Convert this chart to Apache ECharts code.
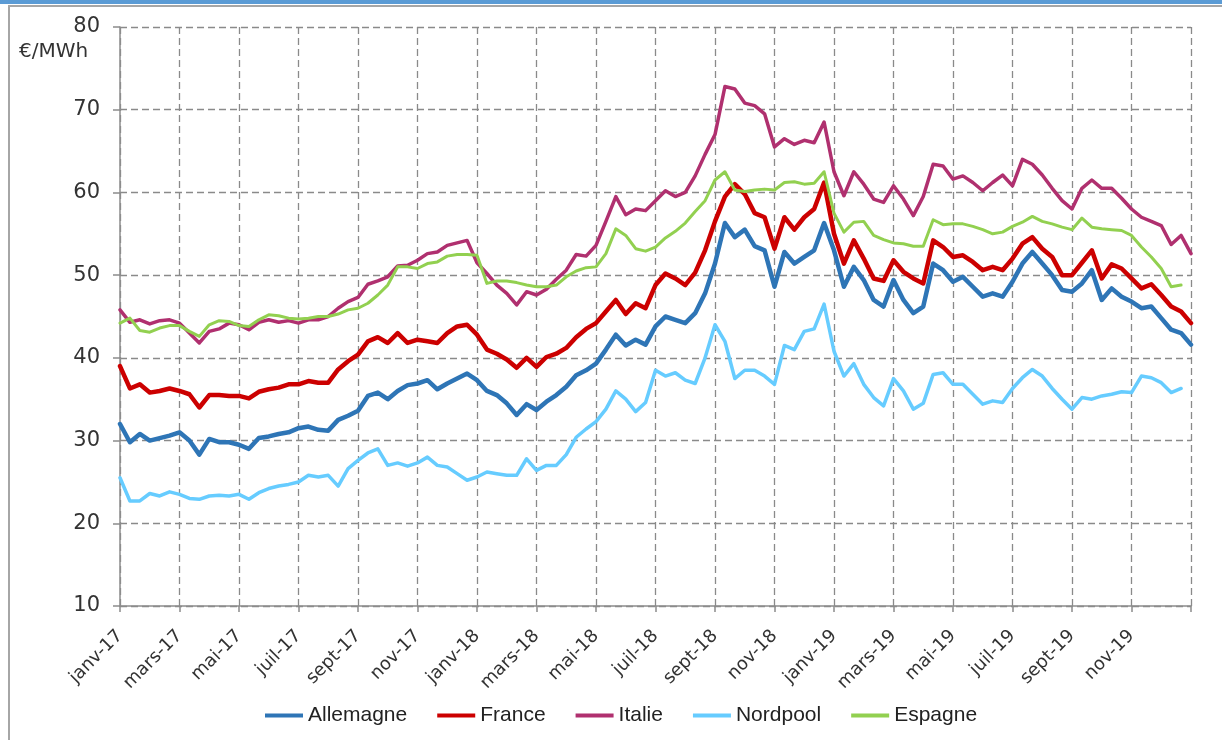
<!DOCTYPE html>
<html><head><meta charset="utf-8">
<script src="https://cdn.jsdelivr.net/npm/echarts@6/dist/echarts.min.js"></script>
<style>
html,body{margin:0;padding:0;background:#fff;overflow:hidden;width:1222px;height:740px}
#band{position:absolute;left:0;top:0;width:1222px;height:4px;background:#5b9bd5}
#frame{position:absolute;left:8px;top:5px;width:1230px;height:760px;border-left:2px solid #a6a6a6;border-top:2px solid #a6a6a6}
#chart{position:absolute;left:0;top:0;width:1222px;height:740px}
</style></head><body>
<div id="band"></div><div id="frame"></div><div id="chart"></div>
<script>
// Categories: 1st, 11th and 21st of each month, Jan 2017 .. Jan 2020
const dates = [];
for (let y = 2017; y <= 2019; y++) {
  for (let m = 1; m <= 12; m++) {
    for (const d of [1, 11, 21]) dates.push(y + '-' + String(m).padStart(2, '0') + '-' + String(d).padStart(2, '0'));
  }
}
dates.push('2020-01-01');

const xTickLabels = ['janv-17','mars-17','mai-17','juil-17','sept-17','nov-17',
  'janv-18','mars-18','mai-18','juil-18','sept-18','nov-18',
  'janv-19','mars-19','mai-19','juil-19','sept-19','nov-19',''];

const allemagne = [32.0,29.8,30.8,30.0,30.3,30.6,31.0,30.0,28.3,30.2,
 29.8,29.8,29.5,29.0,30.3,30.5,30.8,31.0,31.5,31.7,
 31.3,31.2,32.5,33.0,33.6,35.4,35.8,35.0,36.0,36.7,
 36.9,37.3,36.2,36.9,37.5,38.1,37.3,36.0,35.5,34.5,
 33.1,34.4,33.7,34.7,35.5,36.5,37.9,38.5,39.3,41.0,
 42.8,41.5,42.2,41.6,43.8,45.0,44.6,44.2,45.4,47.8,
 51.4,56.3,54.6,55.5,53.5,53.0,48.6,52.8,51.4,52.2,
 53.0,56.3,53.0,48.6,51.0,49.4,47.0,46.2,49.4,47.0,
 45.4,46.2,51.4,50.6,49.2,49.8,48.6,47.4,47.8,47.4,
 49.2,51.4,52.8,51.4,50.0,48.2,48.0,49.0,50.6,47.0,
 48.4,47.4,46.8,46.0,46.2,44.8,43.4,43.0,41.6];

const france = [39.0,36.3,36.8,35.8,36.0,36.3,36.0,35.6,34.0,35.5,
 35.5,35.4,35.4,35.1,35.9,36.2,36.4,36.8,36.8,37.2,
 37.0,37.0,38.6,39.6,40.4,42.0,42.5,41.8,43.0,41.8,
 42.2,42.0,41.8,43.0,43.8,44.0,42.8,41.0,40.5,39.8,
 38.8,40.0,38.9,40.1,40.5,41.2,42.5,43.5,44.2,45.6,
 47.0,45.3,46.6,46.0,48.8,50.2,49.6,48.8,50.3,53.0,
 56.5,59.5,61.0,59.8,57.5,57.0,53.2,57.0,55.5,57.0,
 58.0,61.2,55.0,51.4,54.2,52.0,49.6,49.3,51.8,50.4,
 49.6,49.0,54.2,53.4,52.2,52.4,51.6,50.6,51.0,50.6,
 52.0,53.8,54.6,53.2,52.2,50.0,50.0,51.5,53.0,49.6,
 51.3,50.8,49.6,48.4,48.9,47.6,46.2,45.6,44.2];

const italie = [45.8,44.3,44.6,44.1,44.5,44.6,44.2,43.0,41.8,43.2,
 43.5,44.2,44.0,43.4,44.3,44.6,44.3,44.5,44.2,44.6,
 44.6,45.0,46.0,46.8,47.3,48.9,49.3,49.8,51.1,51.2,
 51.8,52.6,52.8,53.6,53.9,54.2,51.5,50.2,48.8,47.8,
 46.4,48.0,47.6,48.3,49.5,50.6,52.5,52.3,53.6,56.5,
 59.5,57.3,58.0,57.8,59.0,60.2,59.5,60.0,62.0,64.6,
 67.0,72.8,72.5,70.8,70.5,69.5,65.5,66.5,65.8,66.3,
 66.0,68.5,62.5,59.6,62.5,61.0,59.2,58.8,60.8,59.2,
 57.2,59.5,63.4,63.2,61.6,62.0,61.2,60.2,61.2,62.1,
 60.8,64.0,63.4,62.1,60.5,59.0,58.0,60.5,61.5,60.5,
 60.5,59.3,58.0,57.0,56.5,56.0,53.7,54.8,52.6];

const nordpool = [25.5,22.7,22.7,23.6,23.3,23.8,23.5,23.0,22.9,23.3,
 23.4,23.3,23.5,22.9,23.7,24.2,24.5,24.7,25.0,25.8,
 25.6,25.8,24.5,26.6,27.6,28.5,29.0,27.0,27.3,26.9,
 27.3,28.0,27.0,26.8,26.0,25.2,25.6,26.2,26.0,25.8,
 25.8,27.8,26.4,27.0,27.0,28.3,30.4,31.4,32.3,33.8,
 36.0,35.0,33.5,34.6,38.5,37.8,38.2,37.3,36.9,40.0,
 44.0,42.0,37.5,38.5,38.5,37.8,36.8,41.5,41.0,43.2,
 43.5,46.5,40.8,37.8,39.3,36.8,35.2,34.2,37.5,36.0,
 33.8,34.5,38.0,38.2,36.8,36.8,35.6,34.4,34.8,34.6,
 36.3,37.6,38.6,37.8,36.3,35.0,33.8,35.2,35.0,35.4,
 35.6,35.9,35.8,37.8,37.6,37.0,35.8,36.3];

const espagne = [44.2,44.8,43.3,43.1,43.6,43.9,43.9,43.2,42.6,44.0,
 44.5,44.4,43.9,43.8,44.6,45.2,45.1,44.8,44.7,44.8,
 45.0,45.0,45.3,45.8,46.0,46.6,47.6,48.8,51.0,51.0,
 50.8,51.4,51.6,52.3,52.5,52.5,52.4,49.0,49.3,49.3,
 49.1,48.8,48.6,48.6,48.8,49.8,50.5,50.9,51.0,52.6,
 55.6,54.8,53.2,52.9,53.4,54.5,55.3,56.3,57.7,59.0,
 61.5,62.5,60.3,60.1,60.3,60.4,60.3,61.2,61.3,61.0,
 61.1,62.5,57.5,55.2,56.4,56.5,54.8,54.3,53.9,53.8,
 53.5,53.5,56.7,56.1,56.2,56.2,55.9,55.5,55.0,55.2,
 55.9,56.4,57.1,56.5,56.2,55.8,55.5,56.9,55.8,55.6,
 55.5,55.4,54.8,53.4,52.2,50.8,48.6,48.8];

const seriesNames = ['Allemagne', 'France', 'Italie', 'Nordpool', 'Espagne'];
const seriesData = [allemagne, france, italie, nordpool, espagne];
const seriesColors = ['#2e75b6', '#cc0000', '#b0306f', '#66ccff', '#92d050'];
const seriesWidths = [4.5, 4.5, 3.5, 3.5, 3];

const gridLine = { color: '#8a8a8a', width: 1.3, type: [7, 4] };
const axisLine = { lineStyle: { color: '#8c8c8c', width: 1.5 } };

const chart = echarts.init(document.getElementById('chart'), null, { renderer: 'canvas' });
chart.setOption({
  animation: false,
  title: {
    text: '€/MWh', left: 14, top: 37,
    textStyle: { fontFamily: 'DejaVu Sans', fontSize: 20, fontWeight: 'normal', color: '#333' }
  },
  grid: { left: 120, right: 31, top: 27, bottom: 134 },
  legend: {
    left: 260, top: 700, itemGap: 30, itemWidth: 38, itemHeight: 4, icon: 'rect',
    textStyle: { fontFamily: 'Liberation Sans', fontSize: 21, color: '#222' },
    data: seriesNames
  },
  xAxis: {
    type: 'category', boundaryGap: false, data: dates,
    axisLine: axisLine,
    axisTick: { show: true, interval: 5, length: 6, lineStyle: { color: '#8c8c8c', width: 1.5 } },
    axisLabel: {
      interval: 5, rotate: 45, margin: 27,
      fontFamily: 'DejaVu Sans', fontSize: 18, color: '#333',
      formatter: (v, i) => xTickLabels[Math.round(i / 6)] || ''
    },
    splitLine: { show: true, interval: 5, lineStyle: gridLine }
  },
  yAxis: {
    type: 'value', min: 10, max: 80, interval: 10,
    axisLine: { show: true, lineStyle: { color: '#8c8c8c', width: 1.5 } },
    axisTick: { show: true, length: 7, lineStyle: { color: '#8c8c8c', width: 1.5 } },
    axisLabel: { margin: 20, fontFamily: 'DejaVu Sans', fontSize: 21, color: '#333' },
    splitLine: { show: true, lineStyle: gridLine }
  },
  series: seriesNames.map((n, i) => ({
    name: n, type: 'line', data: seriesData[i], showSymbol: false, symbol: 'none',
    color: seriesColors[i],
    lineStyle: { width: seriesWidths[i], color: seriesColors[i], join: 'round', cap: 'round' }
  }))
});
</script>
</body></html>
